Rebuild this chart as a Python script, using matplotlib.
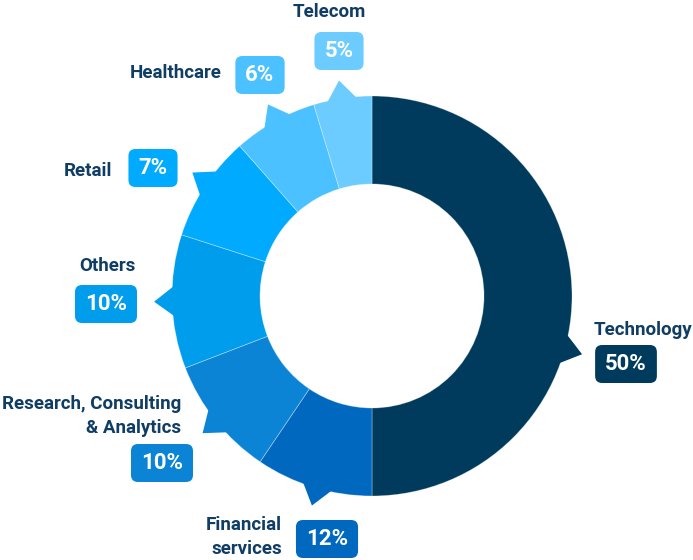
import numpy as np
import matplotlib
matplotlib.use("Agg")
import matplotlib.pyplot as plt
from matplotlib.patches import Polygon, FancyBboxPatch

# data
sectors = ["Technology", "Financial\nservices", "Research, Consulting\n& Analytics",
           "Others", "Retail", "Healthcare", "Telecom"]
shares = [50, 12, 10, 10, 7, 6, 5]                      # printed labels
drawn = [50, 9.45, 9.7, 10.8, 8.55, 6.8, 4.7]            # arc sizes as drawn in the picture
colors = ["#003a5c", "#0069bf", "#0b84d6", "#009ded", "#00aaff", "#4bc1ff", "#6ccbff"]

# layout (pixel coords, y from top)
W, H = 693, 560
CX, CY, R, R_IN = 372, 296, 200, 112
pointer_deg = [-15.5, 254, 219, 181.5, 145.5, 118.5, 98.7]
name_pos = [(643, 330, "center"), (282, 537, "right"), (181, 416, "right"),
            (107, 266, "center"), (112, 171, "right"), (222, 73, "right"), (329, 12, "center")]
box_pos = [(626, 364), (327, 539), (162, 463), (106, 304), (153, 168), (260, 75), (339, 51)]
TXT = "#0f3d63"

plt.rcParams["font.family"] = ["Roboto", "DejaVu Sans"]
fig = plt.figure(figsize=(W / 100, H / 100), dpi=100)
ax = fig.add_axes([0, 0, 1, 1])


def yy(y):
    return H - y


ax.pie(drawn, colors=colors, startangle=90, counterclock=False,
       center=(CX, yy(CY)), radius=R,
       wedgeprops=dict(width=R - R_IN, edgecolor=(1, 1, 1, 0.35), linewidth=0.6))
ax.set_xlim(0, W)
ax.set_ylim(0, H)
ax.set_aspect("equal")
ax.axis("off")

# small pointers on the outer rim
for a, c in zip(pointer_deg, colors):
    t = np.radians(a)
    hw = np.radians(5)
    pts = [(CX + (R - 4) * np.cos(t - hw), yy(CY) + (R - 4) * np.sin(t - hw)),
           (CX + 218 * np.cos(t), yy(CY) + 218 * np.sin(t)),
           (CX + (R - 4) * np.cos(t + hw), yy(CY) + (R - 4) * np.sin(t + hw))]
    ax.add_patch(Polygon(pts, closed=True, facecolor=c, edgecolor="none"))

fig.canvas.draw()
rend = fig.canvas.get_renderer()
for name, share, c, (nx, ny, ha), (bx, by) in zip(sectors, shares, colors, name_pos, box_pos):
    ax.text(nx, yy(ny), name, ha=ha, va="center", multialignment=ha, linespacing=1.4,
            fontsize=13.5, fontweight="bold", color=TXT)
    t = ax.text(bx, yy(by), f"{share}%", ha="center", va="center", fontsize=16,
                fontweight="bold", color="white", zorder=5)
    tw = t.get_window_extent(rend).width
    bw, bh = tw + 20, 38
    ax.add_patch(FancyBboxPatch((bx - bw / 2, yy(by) - bh / 2), bw, bh,
                                boxstyle="round,pad=0,rounding_size=7",
                                facecolor=c, edgecolor="none", zorder=4))

fig.savefig("out.png", dpi=100)
